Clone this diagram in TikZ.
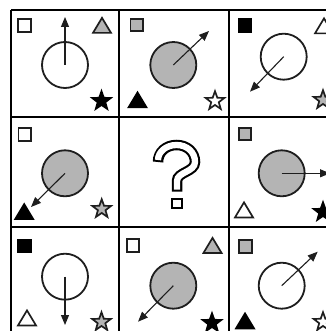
\documentclass[tikz,border=0pt]{standalone}
\usetikzlibrary{shapes.geometric,arrows.meta}
\definecolor{gfill}{HTML}{B4B4B4}
\definecolor{dk}{HTML}{1E1E1E}
\tikzset{
  sqr/.pic={\path[pic actions] (-6.3,-6.3) rectangle (6.3,6.3);},
  tri/.pic={\path[pic actions] (0,-7.6) -- (9,7.4) -- (-9,7.4) -- cycle;},
  shp/.style={draw=dk, line width=1.7pt, line join=miter},
  wf/.style={shp, fill=white},
  gf/.style={shp, fill=gfill},
  bf/.style={shp, fill=black, draw=black},
  strs/.style={star, star points=5, star point ratio=2.45, minimum size=19.5pt, inner sep=0pt, line width=1.6pt},
  circ/.style={circle, minimum size=46pt, inner sep=0pt, draw=dk, line width=1.8pt},
  arr/.style={draw=dk, line width=1.1pt, -{Triangle[length=10pt,width=8pt]}},
  grid/.style={line width=2pt, black},
}
\begin{document}
\begin{tikzpicture}[x=1pt,y=-1pt]
\useasboundingbox (0,0) rectangle (325,331);
\fill[white] (0,0) rectangle (325,331);
% grid
\draw[grid] (11,10.5) -- (340,10.5);
\draw[grid] (11,117.5) -- (340,117.5);
\draw[grid] (11,227) -- (340,227);
\draw[grid] (11,10.5) -- (11,340);
\draw[grid] (119,10.5) -- (119,340);
\draw[grid] (229,10.5) -- (229,340);
% cell 1,1
\pic[wf] at (24.5,25.5) {sqr};
\pic[gf] at (102,25.5) {tri};
\node[circ, fill=white] (c11) at (65,65) {};
\coordinate (t11) at (65,17);
\draw[arr] (c11.center) -- (t11);
\node[strs, bf] (s11) at (101.5,101) {};
% cell 1,2
\pic[gf] at (136.7,25) {sqr};
\node[circ, fill=gfill] (c12) at (173.3,65) {};
\coordinate (t12) at (209,31);
\draw[arr] (c12.center) -- (t12);
\pic[bf] at (137.5,100) {tri};
\node[strs, wf] (s12) at (215,101) {};
% cell 1,3
\pic[bf] at (245,25.5) {sqr};
\pic[wf] at (324,26) {tri};
\node[circ, fill=white] (c13) at (283.7,56.7) {};
\coordinate (t13) at (250,91.7);
\draw[arr] (c13.center) -- (t13);
\node[strs, gf] (s13) at (323,100) {};
% cell 2,1
\pic[wf] at (24.7,134.5) {sqr};
\node[circ, fill=gfill] (c21) at (65,173.3) {};
\coordinate (t21) at (31,207);
\draw[arr] (c21.center) -- (t21);
\pic[bf] at (24.2,211.7) {tri};
\node[strs, gf] (s21) at (101.7,209) {};
% cell 2,2 question mark
\draw[line width=10.5pt, black] (158,162) .. controls (158,152) and (166,145) .. (176.5,145)
  .. controls (187,145) and (195,152) .. (195,162)
  .. controls (195,172) and (177,172) .. (177,181) -- (177,191.5);
\draw[line width=6.3pt, white, shorten <=2pt, shorten >=2pt] (158,162) .. controls (158,152) and (166,145) .. (176.5,145)
  .. controls (187,145) and (195,152) .. (195,162)
  .. controls (195,172) and (177,172) .. (177,181) -- (177,191.5);
\draw[line width=2pt, black, fill=white] (171.9,198.6) rectangle (181.8,208.2);
% cell 2,3
\pic[gf] at (245,134) {sqr};
\node[circ, fill=gfill] (c23) at (281.7,173.3) {};
\coordinate (t23) at (330,173.3);
\draw[arr] (c23.center) -- (t23);
\pic[wf] at (244,210) {tri};
\node[strs, bf] (s23) at (323,212) {};
% cell 3,1
\pic[bf] at (24.5,246) {sqr};
\node[circ, fill=white] (c31) at (65,276.7) {};
\coordinate (t31) at (65,325);
\draw[arr] (c31.center) -- (t31);
\pic[wf] at (27,318) {tri};
\node[strs, gf] (s31) at (101.5,322) {};
% cell 3,2
\pic[wf] at (133,245.5) {sqr};
\pic[gf] at (212.5,245.5) {tri};
\node[circ, fill=gfill] (c32) at (173.3,285.7) {};
\coordinate (t32) at (138,321.7);
\draw[arr] (c32.center) -- (t32);
\node[strs, bf] (s32) at (212,323) {};
% cell 3,3
\pic[gf] at (245.5,246.5) {sqr};
\node[circ, fill=white] (c33) at (281.7,285.7) {};
\coordinate (t33) at (317.7,251.7);
\draw[arr] (c33.center) -- (t33);
\pic[bf] at (245,321) {tri};
\node[strs, wf] (s33) at (323,322) {};
\end{tikzpicture}
\end{document}
